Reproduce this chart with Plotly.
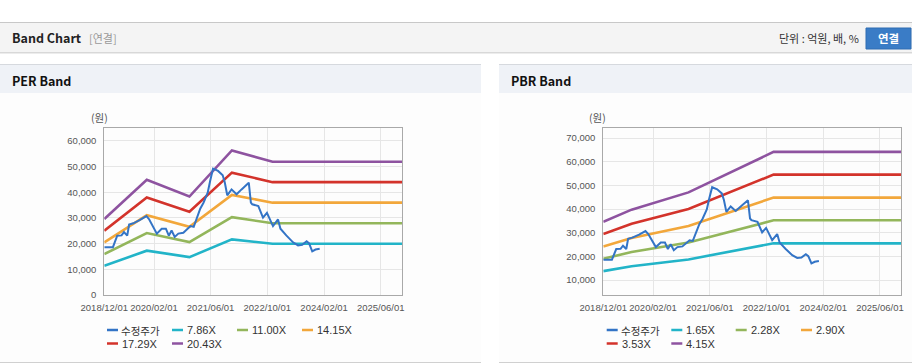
import plotly.graph_objects as go

W, H = 912, 364

# ---------------- data ----------------
price_dates = ["2018-12-01", "2019-02-13", "2019-03-22", "2019-04-28", "2019-05-19", "2019-06-16",
               "2019-07-02", "2019-08-07", "2019-10-04", "2019-11-28", "2019-12-22", "2020-02-25",
               "2020-04-07", "2020-05-13", "2020-06-07", "2020-07-01", "2020-07-28", "2020-08-28",
               "2020-10-10", "2020-11-16", "2020-12-10", "2021-01-07", "2021-02-04", "2021-03-04",
               "2021-04-01", "2021-05-07", "2021-05-28", "2021-06-22", "2021-08-04", "2021-09-13",
               "2021-10-01", "2021-10-22", "2021-11-28", "2022-01-10", "2022-02-22", "2022-03-28",
               "2022-04-25", "2022-05-13", "2022-05-25", "2022-07-16", "2022-08-25", "2022-09-28",
               "2022-11-19", "2023-01-01", "2023-01-22", "2023-03-13", "2023-05-10", "2023-06-22",
               "2023-07-28", "2023-09-04", "2023-09-25", "2023-10-22", "2023-11-19", "2023-12-25"]
price_values = [18600, 18600, 23100, 23200, 24500, 23100,
                27400, 27900, 29200, 30700, 29400, 23900,
                25800, 25800, 23100, 25100, 22600, 23900,
                24200, 25800, 26800, 26500, 30100, 33600,
                35900, 39800, 44400, 49200, 48300, 46600,
                43800, 38800, 41100, 39200, 41100, 42700,
                43700, 36000, 35300, 34600, 30100, 32000,
                26800, 29400, 25800, 23200, 20500, 19300,
                19500, 20900, 20100, 17000, 17700, 18000]

per_dates = ["2018-12-01", "2019-12-01", "2020-12-01", "2021-12-01", "2022-11-15", "2025-12-01"]
per_786 = [11370, 17250, 14740, 21650, 19960, 19960]
per_1100 = [15910, 24130, 20630, 30310, 27940, 27940]
per_1415 = [20460, 31050, 26530, 38980, 35940, 35940]
per_1729 = [25000, 37930, 32420, 47630, 43920, 43920]
per_2043 = [29540, 44820, 38310, 56280, 51890, 51890]
per_names = ["7.86X", "11.00X", "14.15X", "17.29X", "20.43X"]

pbr_dates = ["2018-12-01", "2019-08-01", "2020-12-01", "2022-12-01", "2025-12-01"]
pbr_165 = [13740, 15790, 18690, 25490, 25490]
pbr_228 = [18990, 21820, 25830, 35230, 35230]
pbr_290 = [24160, 27750, 32860, 44800, 44800]
pbr_353 = [29400, 33780, 40000, 54540, 54540]
pbr_415 = [34570, 39720, 47020, 64120, 64120]
pbr_names = ["1.65X", "2.28X", "2.90X", "3.53X", "4.15X"]

price_name = "수정주가"
tick_dates = ["2018-12-01", "2020-02-01", "2021-06-01", "2022-10-01", "2024-02-01", "2025-06-01"]
tick_labels = ["2018/12/01", "2020/02/01", "2021/06/01", "2022/10/01", "2024/02/01", "2025/06/01"]

# ---------------- style ----------------
price_color = "#3374c6"
band_colors = ["#22b4c8", "#93b65b", "#f2a73b", "#d3332b", "#8e53a0"]
FONT = "Liberation Sans, Arial, Noto Sans CJK KR, sans-serif"
KFONT = "Noto Sans CJK KR, Liberation Sans, sans-serif"


def px(x):
    return x / W


def py(y):
    return 1 - y / H


fig = go.Figure()

# PER traces
for vals, name, col in zip([per_786, per_1100, per_1415, per_1729, per_2043], per_names, band_colors):
    fig.add_trace(go.Scatter(x=per_dates, y=vals, name=name, mode="lines",
                             line=dict(color=col, width=2.6), xaxis="x", yaxis="y",
                             showlegend=False, hoverinfo="skip"))
fig.add_trace(go.Scatter(x=price_dates, y=price_values, name=price_name, mode="lines",
                         line=dict(color=price_color, width=2), xaxis="x", yaxis="y", showlegend=False))

# PBR traces
for vals, name, col in zip([pbr_165, pbr_228, pbr_290, pbr_353, pbr_415], pbr_names, band_colors):
    fig.add_trace(go.Scatter(x=pbr_dates, y=vals, name=name, mode="lines",
                             line=dict(color=col, width=2.6), xaxis="x2", yaxis="y2",
                             showlegend=False, hoverinfo="skip"))
fig.add_trace(go.Scatter(x=price_dates, y=price_values, name=price_name, mode="lines",
                         line=dict(color=price_color, width=2), xaxis="x2", yaxis="y2", showlegend=False))

axis_common = dict(showgrid=True, gridcolor="#e6e6e6", gridwidth=1, showline=True,
                   linecolor="#a9a9a9", linewidth=1, mirror=True, ticks="", automargin=False,
                   tickfont=dict(family=FONT, size=9.5, color="#555555"), zeroline=False)

xcommon = dict(axis_common, type="date", range=["2018-12-01", "2025-12-01"],
               tickmode="array", tickvals=tick_dates, ticktext=tick_labels, tickangle=0,
               ticklabelstandoff=4)

ydom = [py(295), py(128)]
fig.update_layout(
    width=W, height=H, margin=dict(l=0, r=0, t=0, b=0, pad=0, autoexpand=False),
    paper_bgcolor="white", plot_bgcolor="white",
    xaxis=dict(xcommon, domain=[px(104.3), px(402)], anchor="y"),
    yaxis=dict(axis_common, domain=ydom, range=[0, 65000], tick0=0, dtick=10000,
               tickformat=",d", anchor="x", ticklabelstandoff=5),
    xaxis2=dict(xcommon, domain=[px(603.3), px(901.3)], anchor="y2"),
    yaxis2=dict(axis_common, domain=ydom, range=[3660, 74230], tick0=0, dtick=10000,
                tickformat=",d", anchor="x2", ticklabelstandoff=5),
    showlegend=False,
)

shapes = []
annotations = []


def rect(x0, y0, x1, y1, fill, line=None, layer="below"):
    shapes.append(dict(type="rect", xref="paper", yref="paper", x0=px(x0), x1=px(x1),
                       y0=py(y1), y1=py(y0), fillcolor=fill,
                       line=dict(width=0) if line is None else dict(color=line, width=1),
                       layer=layer))


def hline(x0, x1, y, color, width=1):
    shapes.append(dict(type="line", xref="paper", yref="paper", x0=px(x0), x1=px(x1),
                       y0=py(y), y1=py(y), line=dict(color=color, width=width), layer="below"))


def text(x, y, s, size=11, color="#333", xanchor="left", bold=False, family=FONT):
    if bold:
        s = "<b>" + s + "</b>"
    annotations.append(dict(x=px(x), y=py(y), xref="paper", yref="paper", text=s, showarrow=False,
                            xanchor=xanchor, yanchor="middle",
                            font=dict(family=family, size=size, color=color)))


# header bar
rect(0, 22, W, 52, "#f4f4f4")
hline(0, W, 22.5, "#c8c8c8")
hline(0, W, 52.5, "#d8d8d8")
hline(0, W, 53.5, "#ececec")
text(10, 38, "Band Chart", size=12.5, color="#222", bold=True, family=KFONT)
text(87, 38, "[연결]", size=11, color="#999", family=KFONT)
text(861, 38, "단위 : 억원, 배, %", size=11, color="#333", xanchor="right", family=KFONT)
shapes.append(dict(type="rect", xref="paper", yref="paper", x0=px(866), x1=px(911),
                   y0=py(49), y1=py(28), fillcolor="#3a7cc6", line=dict(color="#2f6db2", width=1),
                   layer="below"))
text(888.5, 38.5, "연결", size=11.5, color="white", xanchor="center", bold=True, family=KFONT)

# panels
for x0, x1, title in [(0, 481, "PER Band"), (499, W, "PBR Band")]:
    rect(x0, 64, x1, 93, "#eff2f7")
    hline(x0, x1, 64.5, "#d6d9de")
    rect(x0, 93, x1, 362, "#fdfdfd")
    hline(x0, x1, 362.5, "#d0d0d0")
    text(x0 + 10, 80, title, size=12.5, color="#111", bold=True, family=KFONT)

# unit labels
text(99, 118, "(원)", size=10.5, color="#555", xanchor="center", family=KFONT)
text(597, 118, "(원)", size=10.5, color="#555", xanchor="center", family=KFONT)


# manual legends
def legend(cols_x, names):
    entries = [(price_name, price_color)] + list(zip(names, band_colors))
    for i, (nm, col) in enumerate(entries):
        r, c = divmod(i, 4)
        x = cols_x[c]
        y = 330 if r == 0 else 343.5
        shapes.append(dict(type="line", xref="paper", yref="paper", x0=px(x), x1=px(x + 11),
                           y0=py(y), y1=py(y), line=dict(color=col, width=2.5)))
        if i == 0:
            text(x + 12, y, nm, size=10.5, color="#333", family=KFONT)
        else:
            text(x + 13, y, nm, size=11, color="#333", family=FONT)


legend([107, 172, 237, 302], per_names)
legend([606.7, 671.3, 735.7, 801], pbr_names)

fig.update_layout(shapes=shapes, annotations=annotations)

post = ("document.documentElement.style.margin='0';document.body.style.margin='0';"
        "document.body.style.padding='0';document.documentElement.style.overflow='hidden';"
        "document.body.style.overflow='hidden';")
fig.write_html("out.html", config={"displayModeBar": False}, post_script=post)
